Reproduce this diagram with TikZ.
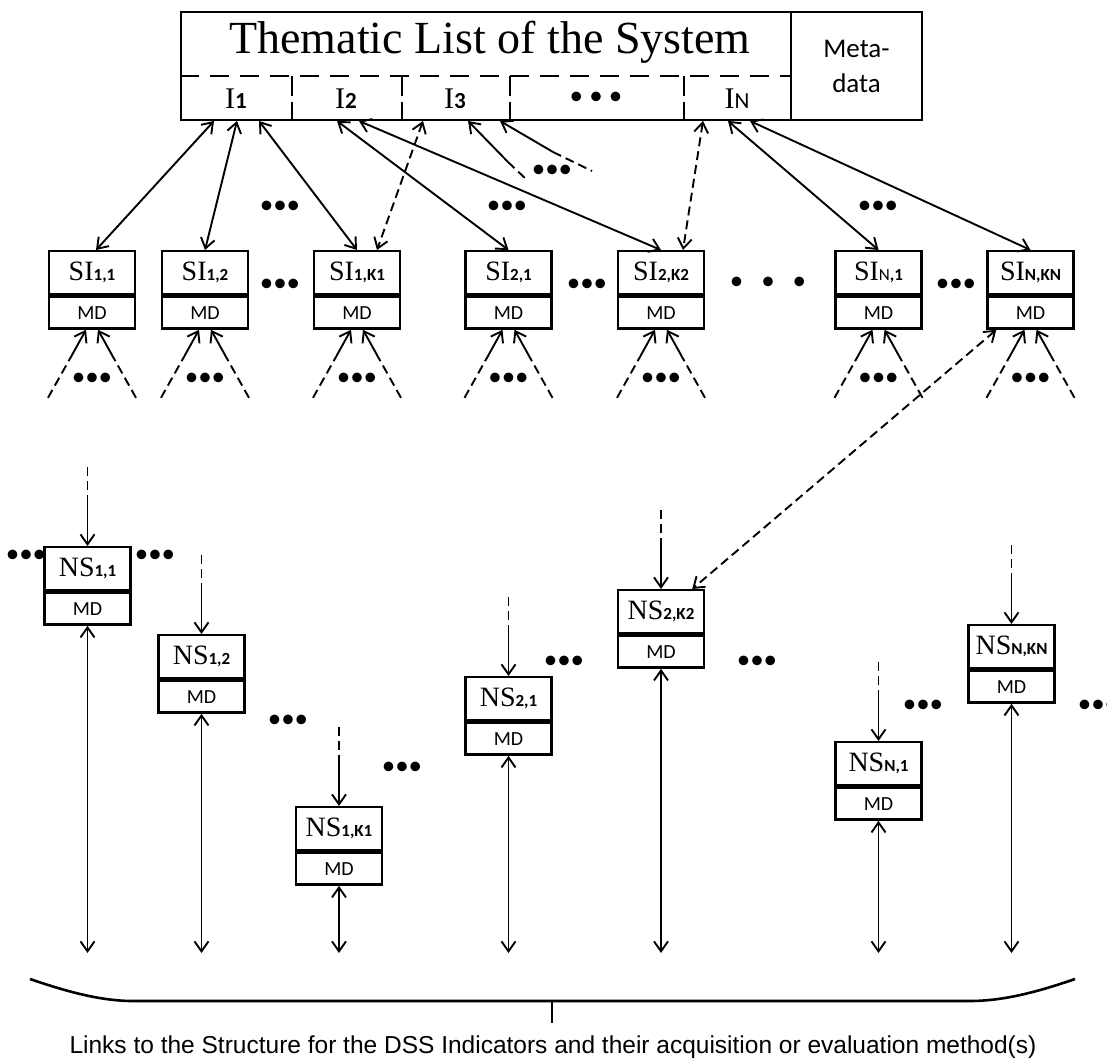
\documentclass[tikz,border=0pt]{standalone}
\usepackage{fontspec}
\setmainfont{Liberation Serif}
\setsansfont{Liberation Sans}
\newfontfamily\calfont{Carlito}
\usetikzlibrary{positioning,arrows.meta}
\newcommand{\ix}[2][17]{{\calfont\bfseries\fontsize{#1}{#1}\selectfont #2}}

\begin{document}
\begin{tikzpicture}[x=1pt,y=-1pt,line width=1.9pt,>={Straight Barb[length=10pt,width=14pt]}]
\tikzstyle{nm}=[draw,line width=2.4pt,minimum width=86pt,minimum height=43pt,inner sep=0pt,font=\fontsize{28}{28}\selectfont]
\tikzstyle{md}=[draw,line width=2.4pt,minimum width=86pt,minimum height=32pt,inner sep=0pt,font=\calfont\fontsize{20}{20}\selectfont]
\tikzstyle{cell}=[minimum height=43pt,inner sep=0pt,font=\fontsize{30}{30}\selectfont]
\tikzstyle{ell}=[inner sep=0pt,font=\calfont\fontsize{27}{27}\selectfont]
\tikzstyle{dsh}=[dash pattern=on 9pt off 5pt]
\useasboundingbox (0,0) rectangle (1107,1062);

% thematic list
\path (486,66) node[draw,line width=2.4pt,minimum width=610pt,minimum height=108pt](list){};
\path (856.5,66) node[draw,line width=2.4pt,minimum width=131pt,minimum height=108pt,align=center,font=\calfont\fontsize{27}{35}\selectfont](meta){Meta-\\data};
\path (490,42) node[font=\fontsize{46}{46}\selectfont](title){Thematic List of the System};
\path (236,98.5) node[cell,minimum width=110pt](c1){I\ix[23]{1}} (346,98.5) node[cell,minimum width=110pt](c2){I\ix[23]{2}} (455,98.5) node[cell,minimum width=108pt](c3){I\ix[23]{3}};
\path (596,98.5) node[cell,minimum width=174pt](c4){\calfont\fontsize{27}{27}\selectfont • • •} (737,98.5) node[cell,minimum width=108pt](cn){I\ix[23]{\mdseries N}};
\draw[line width=2.2pt,dash pattern=on 19pt off 11pt] (c1.north west) -- (cn.north east);
\draw[line width=2.2pt,dash pattern=on 20pt off 6pt] (c1.north east) -- (c1.south east);
\draw[line width=2.2pt,dash pattern=on 20pt off 6pt] (c2.north east) -- (c2.south east);
\draw[line width=2.2pt,dash pattern=on 20pt off 6pt] (c3.north east) -- (c3.south east);
\draw[line width=2.2pt,dash pattern=on 20pt off 6pt] (c4.north east) -- (c4.south east);

% sub-indicators
\path (92,250) node[nm,anchor=north](si11){SI\ix{1,1}} (205,250) node[nm,anchor=north](si12){SI\ix{1,2}} (357,250) node[nm,anchor=north](si1k){SI\ix{1,K1}};
\path (508.5,250) node[nm,anchor=north](si21){SI\ix{2,1}} (661,250) node[nm,anchor=north](si2k){SI\ix{2,K2}};
\path (878.5,250) node[nm,anchor=north](sin1){SI\ix{{\mdseries N},1}} (1030.5,250) node[nm,anchor=north](sink){SI\ix{N,KN}};
\foreach \n in {si11,si12,si1k,si21,si2k,sin1,sink}
  \node[md,below=0pt of \n](\n-md){MD};

\draw[<->] ([xshift=-22pt]c1.south) -- ([xshift=4pt]si11.north);
\draw[<->] ([xshift=1pt]c1.south) -- (si12.north);
\draw[<->] ([xshift=23pt]c1.south) -- (si1k.north);
\draw[<->] ([xshift=-9pt]c2.south) -- (si21.north);
\draw[<->] ([xshift=13pt]c2.south) -- (si2k.north);
\draw[<->,dsh] ([xshift=-32pt]c3.south) -- ([xshift=20pt]si1k.north);
\coordinate (f1) at (508,162); \coordinate (f2) at (527,180);
\coordinate (g1) at (553,152); \coordinate (g2) at (592,171);
\draw[<-] ([xshift=13pt]c3.south) -- (f1); \draw[dsh] (f1) -- (f2);
\draw[<-] ([xshift=45pt]c3.south) -- (g1); \draw[dsh] (g1) -- (g2);
\draw[<->,dsh] ([xshift=-34pt]cn.south) -- ([xshift=22pt]si2k.north);
\draw[<->] ([xshift=-9pt]cn.south) -- (sin1.north);
\draw[<->] ([xshift=13pt]cn.south) -- (sink.north);

\foreach \n in {si11,si12,si1k,si21,si2k,sin1,sink}{
  \draw[dsh] ([xshift=-44pt,yshift=-68pt]\n-md.south) -- ([xshift=-21pt,yshift=-27pt]\n-md.south);
  \draw[->] ([xshift=-21pt,yshift=-27pt]\n-md.south) -- ([xshift=-6pt]\n-md.south);
  \draw[dsh] ([xshift=44pt,yshift=-68pt]\n-md.south) -- ([xshift=21pt,yshift=-27pt]\n-md.south);
  \draw[->] ([xshift=21pt,yshift=-27pt]\n-md.south) -- ([xshift=6pt]\n-md.south);
  \path ([yshift=-50pt]\n-md.south) node[ell](\n-dots){•••};
}

% ellipses between the sub-indicators
\path (552,171) node[ell](e1){•••} (280,207) node[ell](e2){•••} (507,207) node[ell](e3){•••} (878,207) node[ell](e4){•••};
\path (280,285) node[ell](e5){•••} (587,285) node[ell](e6){•••} (768,283) node[ell](e7){•\hspace{18pt}•\hspace{18pt}•} (956,285) node[ell](e8){•••};

% nodes of the structure
\path (87.5,546) node[nm,anchor=north](ns11){NS\ix{1,1}} (201.5,634) node[nm,anchor=north](ns12){NS\ix{1,2}} (339,806) node[nm,anchor=north](ns1k){NS\ix{1,K1}};
\path (508.5,676) node[nm,anchor=north](ns21){NS\ix{2,1}} (661,589) node[nm,anchor=north](ns2k){NS\ix{2,K2}};
\path (878.5,741) node[nm,anchor=north](nsn1){NS\ix{N,1}} (1011.5,624) node[nm,anchor=north](nsnk){NS\ix{N,KN}};
\coordinate (base) at (0,953);
\foreach \n in {ns11,ns12,ns1k,ns21,ns2k,nsn1,nsnk}{
  \node[md,below=0pt of \n](\n-md){MD};
  \draw[dsh] ([yshift=79pt]\n.north) -- ([yshift=46pt]\n.north);
  \draw[->] ([yshift=46pt]\n.north) -- (\n.north);
  \draw[<->] (\n-md.south) -- (\n-md.south |- base);
}
\draw[<->,dsh] ([xshift=10pt]sink-md.south west) -- ([xshift=-13pt]ns2k.north east);

\path (26,556) node[ell](e9){•••} (155,556) node[ell](e10){•••} (288,721) node[ell](e11){•••} (402,768) node[ell](e12){•••};
\path (564,662) node[ell](e13){•••} (757,662) node[ell](e14){•••} (923,706) node[ell](e15){•••} (1098,706) node[ell](e16){•••};

% brace and caption
\draw[line width=2.6pt] (30,979) .. controls (65,991) and (100,1001) .. (133,1001) -- (970,1001) .. controls (1005,1001) and (1040,991) .. (1075,979);
\draw[line width=2.6pt] (552,1001) -- (552,1023);
\path (553,1047) node[font=\sffamily\fontsize{24.5}{24.5}\selectfont](links){Links to the Structure for the DSS Indicators and their acquisition or evaluation method(s)};
\end{tikzpicture}
\end{document}
